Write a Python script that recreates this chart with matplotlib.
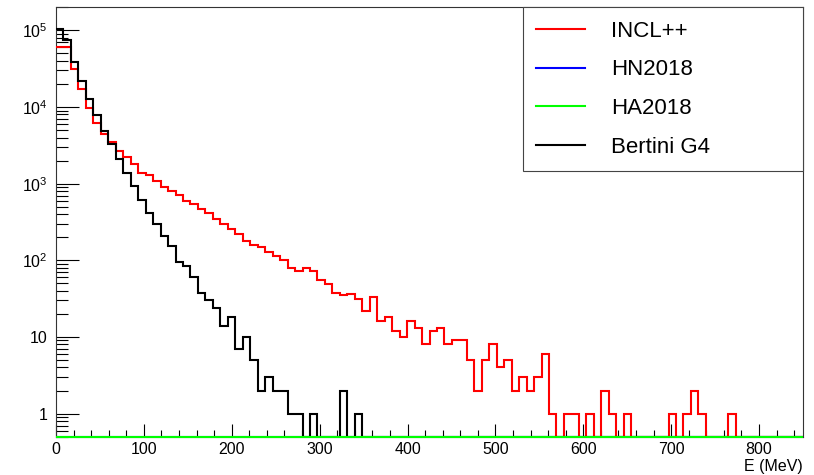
#!/usr/bin/env python3
"""
Energy spectra of emitted particles for the four cascade models,
log-scale step histograms (100 bins, 0-850 MeV), ROOT-like styling.

    python plot.py  -> out.png
"""
import numpy as np
import matplotlib.pyplot as plt
from matplotlib.ticker import (MultipleLocator, LogLocator, FuncFormatter,
                               NullFormatter)

plt.rcParams['font.family'] = ['Liberation Sans', 'DejaVu Sans']
plt.rcParams['mathtext.fontset'] = 'custom'
plt.rcParams['mathtext.rm'] = 'Liberation Sans'
plt.rcParams['mathtext.it'] = 'Liberation Sans:italic'

# binning
E_MIN, E_MAX, N_BINS = 0.0, 850.0, 100
EDGES = np.linspace(E_MIN, E_MAX, N_BINS + 1)
Y_MIN, Y_MAX = 0.5, 2.0e5

# bin contents, 8.5 MeV bins starting at 0
INCL = [
    6.0e4, 6.0e4, 3.1e4, 1.7e4, 9.6e3, 6.1e3, 4.5e3, 3.5e3, 2.7e3, 2.25e3,
    1.78e3, 1.38e3, 1.31e3, 1.1e3, 900, 810, 720, 600, 545, 470,
    410, 350, 300, 255, 220, 180, 158, 150, 130, 115,
    100, 80, 72, 80, 72, 56, 49, 38, 35, 36,
    31, 22, 33, 16, 18, 12, 10, 16, 13, 8,
    12, 13, 8, 9, 9, 5, 2, 5, 8, 4,
    5, 2, 3, 2, 3, 6, 1, 0, 1, 1,
    0, 1, 0, 2, 1, 0, 1, 0, 0, 0,
    0, 0, 1, 0, 1, 2, 1, 0, 0, 0,
    1,
] + [0] * 9

BERTINI = [
    1.05e5, 7.4e4, 3.9e4, 2.2e4, 1.26e4, 7.8e3, 4.8e3, 3.3e3, 2.1e3, 1.38e3,
    920, 620, 420, 300, 210, 153, 95, 84, 61, 38,
    30, 24, 14, 18, 7, 10, 5, 2, 3, 2,
    2, 1, 1, 0, 1, 0, 0, 0, 2, 0,
    1,
] + [0] * 59

HN2018 = [0] * N_BINS
HA2018 = [0] * N_BINS

SERIES = [
    ("INCL++", INCL, "#ff0000"),
    ("HN2018", HN2018, "#0000ff"),
    ("HA2018", HA2018, "#00ff00"),
    ("Bertini G4", BERTINI, "#000000"),
]


def decade_label(v, pos):
    if v <= 0:
        return ""
    p = int(round(np.log10(v)))
    if p == 0:
        return "1"
    if p == 1:
        return "10"
    return r"$\mathregular{10^{%d}}$" % p


def main():
    fig = plt.figure(figsize=(8.14, 4.75), dpi=100)
    ax = fig.add_axes([0.0688, 0.0806, 0.9177, 0.904])

    handles = []
    for name, counts, color in SERIES:
        # empty bins sit on the bottom of the frame, as in ROOT
        vals = np.clip(np.asarray(counts, dtype=float), Y_MIN, None)
        h = ax.stairs(vals, EDGES, baseline=None, color=color, linewidth=1.5,
                      label=name, clip_on=(name != "HA2018"),
                      zorder=4 if name == "HA2018" else 3)
        handles.append(h)

    ax.set_yscale("log")
    ax.set_xlim(E_MIN, E_MAX)
    ax.set_ylim(Y_MIN, Y_MAX)

    ax.xaxis.set_major_locator(MultipleLocator(100))
    ax.xaxis.set_minor_locator(MultipleLocator(20))
    ax.yaxis.set_major_locator(LogLocator(base=10, numticks=12))
    ax.yaxis.set_minor_locator(LogLocator(base=10, subs=np.arange(2, 10),
                                          numticks=12))
    ax.yaxis.set_major_formatter(FuncFormatter(decade_label))
    ax.yaxis.set_minor_formatter(NullFormatter())

    ax.tick_params(axis='x', which='major', direction='in', length=9.4,
                   width=0.8, pad=4, labelsize=11.5)
    ax.tick_params(axis='x', which='minor', direction='in', length=4.7,
                   width=0.8)
    ax.tick_params(axis='y', which='major', direction='in', length=16.5,
                   width=0.8, pad=6, labelsize=11.5)
    ax.tick_params(axis='y', which='minor', direction='in', length=8.3,
                   width=0.8)
    for sp in ax.spines.values():
        sp.set_linewidth(0.8)
        sp.set_color("#333333")

    ax.set_xlabel("E (MeV)", loc="right", fontsize=11.5, labelpad=1)

    leg = ax.legend(handles=handles, loc="upper left",
                    bbox_to_anchor=(0.625, 0.0, 0.375, 1.0), mode="expand",
                    borderaxespad=0, fontsize=16, frameon=True, fancybox=False,
                    edgecolor="#444444", framealpha=1, handlelength=2.2,
                    handletextpad=1.17, labelspacing=0.8, borderpad=0.6)
    leg.get_frame().set_linewidth(0.8)

    fig.savefig("out.png", dpi=100)


if __name__ == "__main__":
    main()
